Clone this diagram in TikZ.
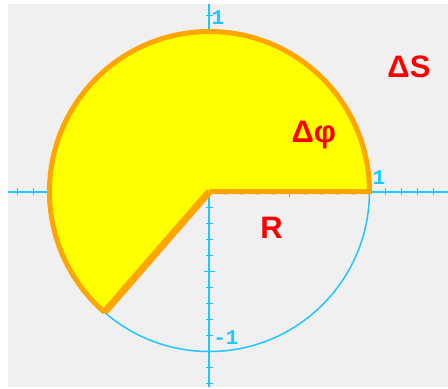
\documentclass[tikz,border=0pt]{standalone}
\usepackage{fontspec}
\setmainfont{Liberation Sans}
\newfontfamily\tickfont{Liberation Mono}
\definecolor{panel}{HTML}{F0F0F0}
\definecolor{axiscyan}{HTML}{1EC8FF}
\definecolor{sectoryellow}{HTML}{FFFF00}
\definecolor{rimorange}{HTML}{FFA500}

\begin{document}
\begin{tikzpicture}[x=160pt,y=160pt,
    axis/.style={axiscyan, line width=2pt},
    tick/.style={axiscyan, line width=1.5pt},
    ticklabel/.style={axiscyan, font=\tickfont\bfseries\fontsize{21}{21}\selectfont, anchor=base, inner sep=0pt},
    biglabel/.style={red, font=\bfseries\fontsize{31}{31}\selectfont, anchor=base, inner sep=0pt}]
    \useasboundingbox (-1.309,-1.234) rectangle (1.491,1.197);
    \fill[panel] (-1.259,-1.222) rectangle (1.491,1.172);

    % axes and ticks
    \coordinate (o) at (0,0);
    \coordinate (xl) at (-1.259,0);
    \coordinate (xr) at (1.491,0);
    \coordinate (yb) at (0,-1.222);
    \coordinate (yt) at (0,1.172);
    \draw[axis] (xl) -- (xr);
    \draw[axis] (yb) -- (yt);
    \foreach \t in {-12,...,14}
        \draw[tick] (\t/10,-0.02) -- (\t/10,0.02);
    \foreach \t in {-12,...,11}
        \draw[tick] (-0.02,\t/10) -- (0.02,\t/10);
    \foreach \t in {-10,-5,5,10} {
        \draw[tick] (\t/10,-0.032) -- (\t/10,0.032);
        \draw[tick] (-0.032,\t/10) -- (0.032,\t/10);
    }
    \draw[axiscyan, line width=1.5pt] (o) circle[radius=1];

    % sector
    \coordinate (a) at (0:1);
    \coordinate (b) at (229:1);
    \fill[sectoryellow] (o) -- (a) arc[start angle=0, end angle=229, radius=1] -- cycle;
    \draw[rimorange, line width=5pt] (o) -- (a) arc[start angle=0, end angle=229, radius=1];
    \draw[rimorange, line width=7pt] (o) -- (b);

    \node[biglabel] (ds) at (1.247,0.711) {ΔS};
    \node[biglabel] (dphi) at (0.653,0.309) {Δφ};
    \node[biglabel] (r) at (0.388,-0.291) {R};
    \node[ticklabel] (ytop) at (0.053,1.041) {1};
    \node[ticklabel] (xright) at (1.059,0.041) {1};
    \node[ticklabel] (ybot) at (0.103,-0.959) {-1};
\end{tikzpicture}
\end{document}
